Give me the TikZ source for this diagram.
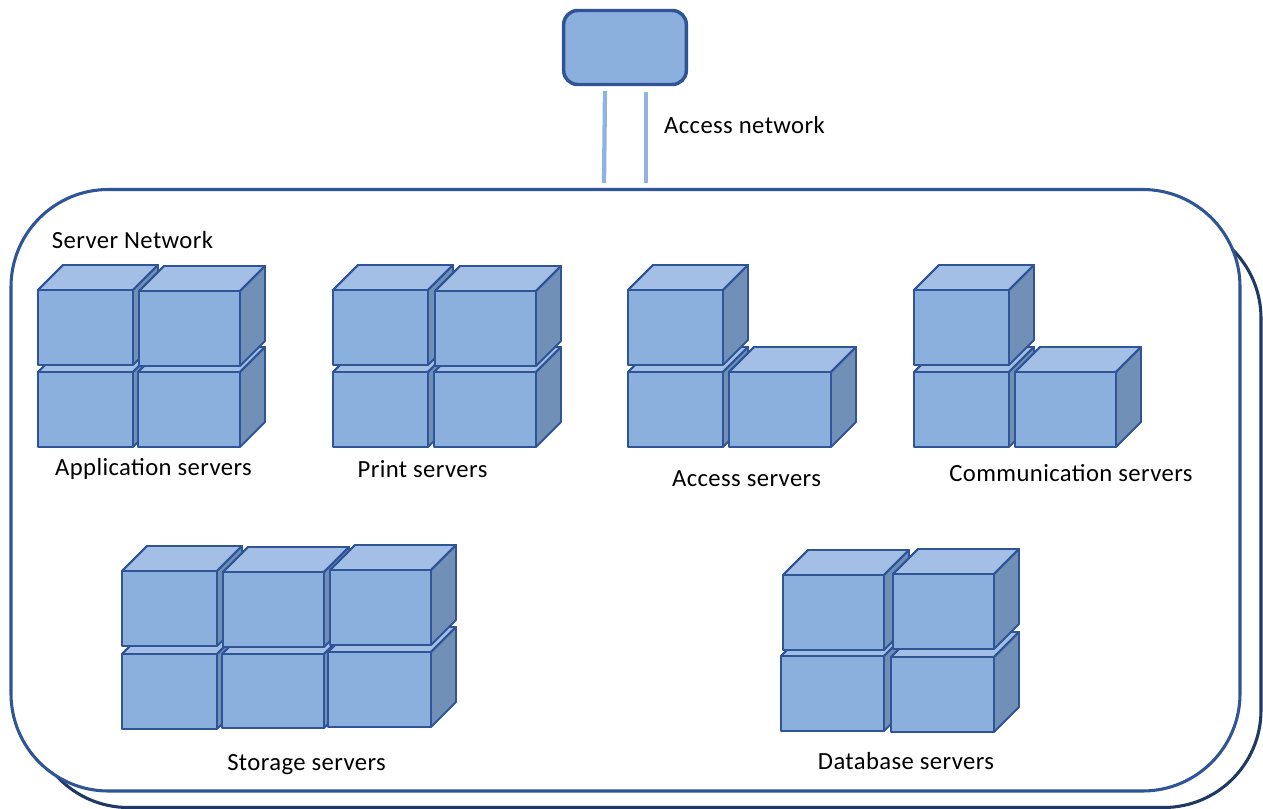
\documentclass[tikz,border=0pt]{standalone}
\usepackage{fontspec}
\setmainfont[LetterSpace=1.6]{Carlito}
\definecolor{cubefront}{HTML}{8CB0DD}
\definecolor{cubetop}{HTML}{A3BFE6}
\definecolor{cubeside}{HTML}{7090B8}
\definecolor{cubeline}{HTML}{2F5597}
\definecolor{backline}{HTML}{1F3864}
\definecolor{linkblue}{HTML}{8FB4E3}
\tikzset{
  facefront/.style={draw=cubeline,fill=cubefront,line width=1.4pt,line join=round},
  facetop/.style={draw=cubeline,fill=cubetop,line width=1.4pt,line join=round},
  faceside/.style={draw=cubeline,fill=cubeside,line width=1.4pt,line join=round},
  label text/.style={font=\fontsize{18.5pt}{22pt}\selectfont,text=black,inner sep=0pt,anchor=base},
  link/.style={draw=linkblue,line width=3.2pt},
  panel/.style={rounded corners=73pt,fill=white,line width=2.3pt}
}
% #1 x1, #2 y1, #3 x2, #4 y2 : front face in px; depth 25
\newcommand{\srvcube}[4]{%
  \fill[facetop] (#1,#2) -- (#1+25,#2-25) -- (#3+25,#2-25) -- (#3,#2) -- cycle;
  \fill[faceside] (#3,#2) -- (#3+25,#2-25) -- (#3+25,#4-25) -- (#3,#4) -- cycle;
  \fill[facefront] (#1,#2) rectangle (#3,#4);
  \draw[facetop,fill=none] (#1,#2) -- (#1+25,#2-25) -- (#3+25,#2-25) -- (#3,#2);
}
\begin{document}
\begin{tikzpicture}[x=0.75pt,y=-0.75pt]
\useasboundingbox (0,0) rectangle (1263,809);
% panels
\draw[panel,draw=backline] (31,221) rectangle (1261,807.5);
\draw[panel,draw=cubeline] (11,189.5) rectangle (1240,791);
% top box
\node[draw=cubeline,fill=cubefront,line width=2.6pt,rounded corners=10.5pt,minimum width=92pt,minimum height=55.5pt,inner sep=0pt] (terminal) at (625,47.5) {};
% links
\coordinate (la) at (605,91); \coordinate (lb) at (604,183);
\coordinate (lc) at (646,92); \coordinate (ld) at (646,183);
\draw[link] (la) -- (lb);
\draw[link] (lc) -- (ld);
% application
\srvcube{38}{372}{133}{447}
\srvcube{38}{290}{133}{365}
\srvcube{138}{372}{240}{447}
\srvcube{139}{291}{240}{366}
% print
\srvcube{333}{372}{428}{447}
\srvcube{333}{290}{428}{365}
\srvcube{434}{372}{536}{447}
\srvcube{435}{291}{536}{366}
% access
\srvcube{628}{372}{723}{447}
\srvcube{628}{290}{723}{365}
\srvcube{729}{372}{831}{447}
% communication
\srvcube{914}{372}{1009}{447}
\srvcube{914}{290}{1009}{365}
\srvcube{1015}{372}{1116}{447}
% storage
\srvcube{122}{654}{217}{729}
\srvcube{122}{571}{217}{646}
\srvcube{222}{654}{324}{728}
\srvcube{223}{572}{324}{647}
\srvcube{328}{652}{431}{727}
\srvcube{330}{570}{431}{645}
% database
\srvcube{781}{656}{884}{731}
\srvcube{783}{575}{884}{650}
\srvcube{891}{657}{994}{732}
\srvcube{893}{574}{994}{649}
% labels
\node[label text] (lblaccessnet) at (744.5,134) {Access network};
\node[label text] (lblservernet) at (132.5,248) {Server Network};
\node[label text] (lblapp) at (153.5,475) {Application servers};
\node[label text] (lblprint) at (422.5,477) {Print servers};
\node[label text] (lblaccess) at (746.5,486) {Access servers};
\node[label text] (lblcomm) at (1071,481) {Communication servers};
\node[label text] (lblstorage) at (306.5,770) {Storage servers};
\node[label text] (lbldb) at (906,769) {Database servers};
\end{tikzpicture}
\end{document}
